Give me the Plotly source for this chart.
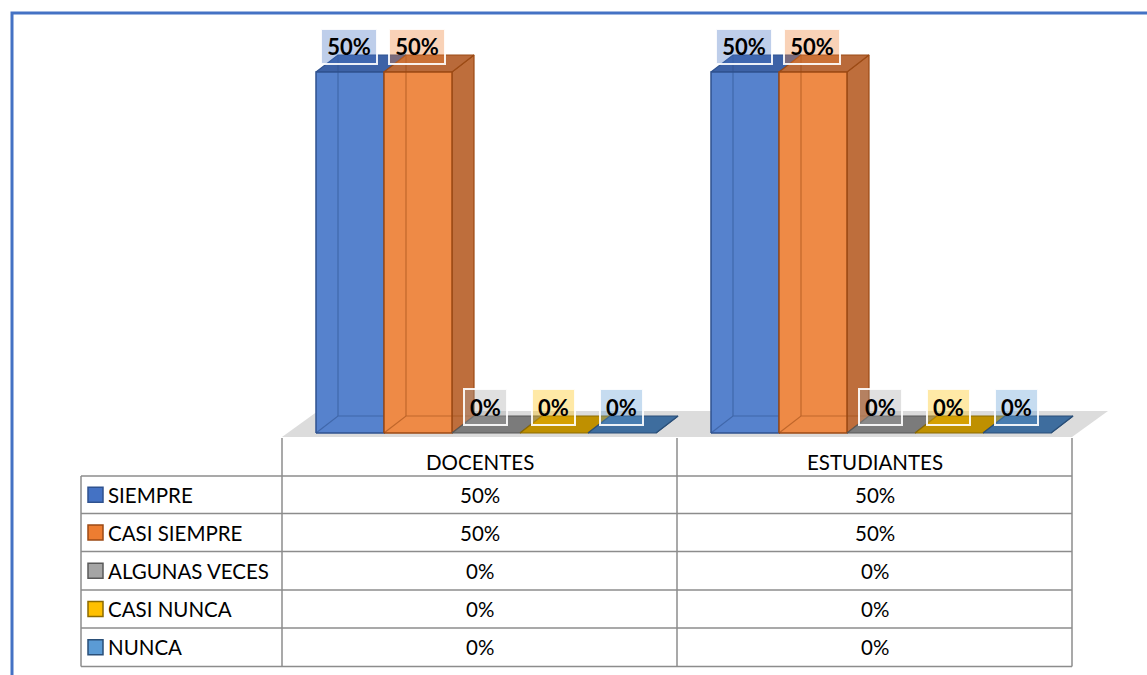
import plotly.graph_objects as go

# ---------------- data ----------------
categories = ["DOCENTES", "ESTUDIANTES"]
series_names = ["SIEMPRE", "CASI SIEMPRE", "ALGUNAS VECES", "CASI NUNCA", "NUNCA"]
siempre = [50, 50]
casi_siempre = [50, 50]
algunas_veces = [0, 0]
casi_nunca = [0, 0]
nunca = [0, 0]
values = [siempre, casi_siempre, algunas_veces, casi_nunca, nunca]

# ---------------- styles ----------------
front_col = ["#5682CD", "#EE8A46", "#A5A5A5", "#FFC000", "#5B9BD5"]
side_col = ["#3F66AD", "#BE6E3C", "#858585", "#C99A10", "#3F74A6"]
top_col = ["#3D62A6", "#B96A3A", "#7B7B7B", "#BF9000", "#3E6D9E"]
edge_col = ["#2F528F", "#9C4A14", "#595959", "#8C6A00", "#2A4F78"]
key_col = ["#4472C4", "#ED7D31", "#A5A5A5", "#FFC000", "#5B9BD5"]
lab_bg = ["rgba(68,114,196,0.35)", "rgba(237,125,49,0.35)", "rgba(165,165,165,0.35)",
          "rgba(255,192,0,0.35)", "rgba(91,155,213,0.35)"]

W, H = 1147, 675
FONT = "Lato"
TSIZE = 20.5

# pixel geometry of the plotting frame
X_LEFT_PX = 282.0      # left edge of category 0 (value -0.5)
UNIT_PX = 395.0        # px per category
Y0_PX = 433.0          # pixel of value 0
PX_PER_VAL = (433.0 - 72.0) / 50.0

xmin = -0.5 - X_LEFT_PX / UNIT_PX
xmax = xmin + W / UNIT_PX
ymin = -(H - Y0_PX) / PX_PER_VAL
ymax = Y0_PX / PX_PER_VAL

bw = 68.0 / UNIT_PX              # bar width
g_off = -163.5 / UNIT_PX         # left edge of first bar relative to category centre
dx = 22.0 / UNIT_PX              # depth offset x
dy = 17.0 / PX_PER_VAL           # depth offset y


def px(xp):
    return xp / W


def py(yp):
    return 1 - yp / H


fig = go.Figure()

# floor
fdx = 36.0 / UNIT_PX
fb = -4.0 / PX_PER_VAL
ft = 22.0 / PX_PER_VAL
fig.add_trace(go.Scatter(
    x=[-0.5, 1.5, 1.5 + fdx, -0.5 + fdx, -0.5],
    y=[fb, fb, ft, ft, fb],
    fill="toself", fillcolor="#DCDCDC", mode="lines", line=dict(width=0),
    hoverinfo="skip", showlegend=False))

for s, name in enumerate(series_names):
    sides_x, sides_y, tops_x, tops_y, fr_x, fr_y, ln_x, ln_y = [], [], [], [], [], [], [], []
    for c, cat in enumerate(categories):
        v = values[s][c]
        x0 = c + g_off + s * bw
        x1 = x0 + bw
        sides_x += [x1, x1 + dx, x1 + dx, x1, x1, None]
        sides_y += [0, dy, v + dy, v, 0, None]
        tops_x += [x0, x1, x1 + dx, x0 + dx, x0, None]
        tops_y += [v, v, v + dy, v + dy, v, None]
        if v > 0:
            fr_x += [x0, x1, x1, x0, x0, None]
            fr_y += [0, 0, v, v, 0, None]
            ln_x += [x0 + dx, x0 + dx, None, x0, x0 + dx, x1 + dx, None]
            ln_y += [v + dy, dy, None, 0, dy, dy, None]
    fig.add_trace(go.Scatter(x=sides_x, y=sides_y, fill="toself", fillcolor=side_col[s],
                             mode="lines", line=dict(color=edge_col[s], width=1.2),
                             hoverinfo="skip", showlegend=False))
    fig.add_trace(go.Scatter(x=tops_x, y=tops_y, fill="toself", fillcolor=top_col[s],
                             mode="lines", line=dict(color=edge_col[s], width=1.2),
                             hoverinfo="skip", showlegend=False))
    if fr_x:
        fig.add_trace(go.Scatter(x=fr_x, y=fr_y, fill="toself", fillcolor=front_col[s],
                                 mode="lines", line=dict(color=edge_col[s], width=1.5),
                                 name=name, hoverinfo="name", showlegend=False))
        fig.add_trace(go.Scatter(x=ln_x, y=ln_y, mode="lines",
                                 line=dict(color=edge_col[s], width=1.2),
                                 opacity=0.55, hoverinfo="skip", showlegend=False))

    for c, cat in enumerate(categories):
        v = values[s][c]
        xc = c + g_off + s * bw + bw / 2
        big = v >= 10
        fig.add_annotation(
            x=xc - 1.0 / UNIT_PX, y=v + 3.6, xref="x", yref="y", text=f"<b>{v}%</b>",
            showarrow=False, font=dict(family=FONT, size=22, color="black"),
            bgcolor=lab_bg[s], bordercolor="rgba(255,255,255,0.9)", borderwidth=2,
            borderpad=1, width=52 if big else 39, height=31 if big else 32,
            xanchor="center", yanchor="middle")

# ---------------- data table ----------------
shapes = []
LC = "#8C8C8C"
col_x = [282, 677, 1072]
row_y = [476, 513.5, 551.5, 590, 628, 666.5]
for xv in col_x:
    shapes.append(dict(type="line", xref="paper", yref="paper", x0=px(xv), x1=px(xv),
                       y0=py(438), y1=py(666.5), line=dict(color=LC, width=1.5)))
shapes.append(dict(type="line", xref="paper", yref="paper", x0=px(81), x1=px(81),
                   y0=py(476), y1=py(666.5), line=dict(color=LC, width=1.5)))
for yv in row_y:
    shapes.append(dict(type="line", xref="paper", yref="paper", x0=px(81), x1=px(1072),
                       y0=py(yv), y1=py(yv), line=dict(color=LC, width=1.5)))

# outer chart frame
shapes.append(dict(type="rect", xref="paper", yref="paper", x0=px(12), x1=px(W + 20),
                   y0=py(H + 20), y1=py(13), line=dict(color="#4472C4", width=3),
                   layer="below"))

col_cx = [(col_x[0] + col_x[1]) / 2, (col_x[1] + col_x[2]) / 2]
for c, cat in enumerate(categories):
    fig.add_annotation(x=px(col_cx[c]), y=py(462), xref="paper", yref="paper", text=cat,
                       showarrow=False, font=dict(family=FONT, size=TSIZE, color="black"),
                       xanchor="center", yanchor="middle")

for s, name in enumerate(series_names):
    yc = (row_y[s] + row_y[s + 1]) / 2
    shapes.append(dict(type="rect", xref="paper", yref="paper", x0=px(88), x1=px(103),
                       y0=py(yc + 7.5), y1=py(yc - 7.5), fillcolor=key_col[s],
                       line=dict(color=edge_col[s], width=1.5)))
    fig.add_annotation(x=px(106), y=py(yc), xref="paper", yref="paper", text=name,
                       showarrow=False, font=dict(family=FONT, size=TSIZE, color="black"),
                       xanchor="left", yanchor="middle")
    for c in range(len(categories)):
        fig.add_annotation(x=px(col_cx[c]), y=py(yc), xref="paper", yref="paper",
                           text=f"{values[s][c]}%", showarrow=False,
                           font=dict(family=FONT, size=TSIZE, color="black"),
                           xanchor="center", yanchor="middle")

fig.update_layout(
    width=W, height=H, autosize=False,
    margin=dict(l=0, r=0, t=0, b=0),
    paper_bgcolor="white", plot_bgcolor="white",
    showlegend=False, shapes=shapes,
    xaxis=dict(range=[xmin, xmax], visible=False, fixedrange=True, domain=[0, 1]),
    yaxis=dict(range=[ymin, ymax], visible=False, fixedrange=True, domain=[0, 1]),
    font=dict(family=FONT),
)

fig.write_html("out.html", config={"displayModeBar": False},
               post_script="document.body.style.margin='0';document.body.style.overflow='hidden';")
